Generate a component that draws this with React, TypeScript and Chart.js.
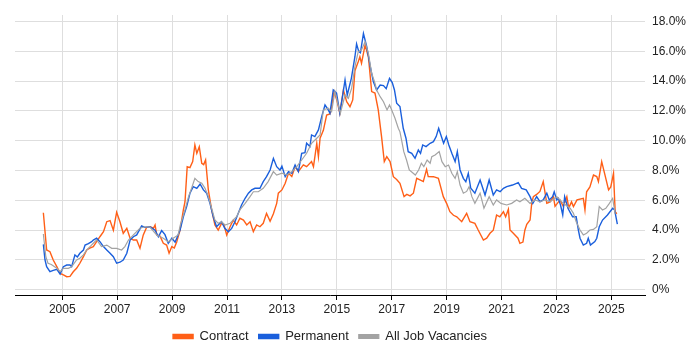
import React, { useEffect, useRef } from "react";
import { Chart, registerables } from "chart.js";

Chart.register(...registerables);

const yearTicks = [2005, 2007, 2009, 2011, 2013, 2015, 2017, 2019, 2021, 2023, 2025];
const percentTicks = [0, 2, 4, 6, 8, 10, 12, 14, 16, 18];

const contractYears = [
  2004.31, 2004.43, 2004.55, 2004.67, 2004.8, 2004.92, 2005.04, 2005.16, 2005.28, 2005.4, 2005.52, 2005.64, 2005.77, 2005.89,
  2006.0, 2006.13, 2006.25, 2006.37, 2006.5, 2006.62, 2006.74, 2006.86, 2006.98, 2007.1, 2007.22, 2007.35, 2007.47, 2007.59,
  2007.71, 2007.83, 2007.95, 2008.07, 2008.2, 2008.32, 2008.38, 2008.44, 2008.56, 2008.68, 2008.8, 2008.89, 2008.99, 2009.08,
  2009.17, 2009.29, 2009.41, 2009.47, 2009.55, 2009.65, 2009.75, 2009.83, 2009.9, 2009.99, 2010.08, 2010.15, 2010.22, 2010.32,
  2010.44, 2010.56, 2010.68, 2010.8, 2010.89, 2010.99, 2011.11, 2011.23, 2011.35, 2011.47, 2011.6, 2011.72, 2011.84, 2011.96,
  2012.08, 2012.2, 2012.32, 2012.44, 2012.57, 2012.69, 2012.81, 2012.87, 2013.0, 2013.12, 2013.24, 2013.36, 2013.48, 2013.6,
  2013.78, 2013.9, 2014.08, 2014.15, 2014.27, 2014.33, 2014.39, 2014.51, 2014.63, 2014.75, 2014.81, 2014.9, 2015.0, 2015.11,
  2015.24, 2015.36, 2015.48, 2015.58, 2015.66, 2015.78, 2015.84, 2015.9, 2016.03, 2016.15, 2016.27, 2016.39, 2016.51, 2016.63,
  2016.73, 2016.82, 2016.94, 2017.06, 2017.18, 2017.3, 2017.45, 2017.55, 2017.67, 2017.79, 2017.91, 2018.03, 2018.15, 2018.27,
  2018.33, 2018.52, 2018.7, 2018.88, 2019.0, 2019.12, 2019.25, 2019.37, 2019.55, 2019.73, 2019.85, 2020.03, 2020.15, 2020.34,
  2020.46, 2020.58, 2020.7, 2020.82, 2020.94, 2021.07, 2021.15, 2021.25, 2021.31, 2021.43, 2021.6, 2021.67, 2021.78, 2021.85,
  2021.92, 2022.04, 2022.1, 2022.16, 2022.28, 2022.4, 2022.52, 2022.65, 2022.77, 2022.89, 2022.95, 2023.13, 2023.25, 2023.38,
  2023.45, 2023.55, 2023.62, 2023.75, 2023.98, 2024.04, 2024.1, 2024.22, 2024.35, 2024.47, 2024.53, 2024.65, 2024.77, 2024.9,
  2024.98, 2025.08, 2025.14, 2025.2,
];
const contractValues = [
  5.17, 2.67, 2.56, 2.0, 1.55, 1.1, 1.0, 0.88, 0.9, 1.21, 1.44, 1.78, 2.22, 2.67,
  2.8, 2.9, 3.23, 3.56, 3.9, 4.57, 4.64, 4.0, 5.2, 4.57, 3.79, 4.13, 3.46, 3.34,
  3.34, 2.79, 3.68, 4.19, 4.23, 4.13, 4.35, 3.68, 3.6, 3.12, 3.0, 2.45, 2.9, 2.8,
  3.23, 4.0, 5.36, 5.91, 8.26, 8.2, 8.6, 9.72, 9.16, 9.6, 8.49, 8.4, 8.71, 6.7,
  5.36, 4.35, 4.01, 4.46, 4.35, 3.68, 4.23, 4.68, 4.35, 4.8, 4.68, 4.35, 4.57, 3.9,
  4.35, 4.23, 4.46, 5.13, 4.6, 5.1, 5.8, 6.48, 6.7, 7.15, 7.82, 7.6, 8.26, 7.93,
  8.38, 8.26, 8.6, 8.26, 9.83, 8.93, 10.17, 10.7, 11.73, 11.8, 12.29, 13.3, 12.74, 11.85,
  13.41, 12.62, 12.29, 12.74, 14.7, 15.3, 15.64, 15.2, 16.43, 15.64, 13.3, 13.2, 12.07, 10.28,
  8.6, 8.93, 8.6, 7.59, 7.4, 7.15, 6.25, 6.4, 6.3, 6.48, 7.48, 7.37, 7.26, 8.08,
  7.6, 7.59, 7.48, 6.25, 5.8, 5.24, 5.0, 4.9, 4.57, 5.13, 4.57, 4.46, 4.01, 3.34,
  3.46, 3.79, 4.0, 5.02, 4.9, 5.24, 4.9, 5.4, 4.01, 3.79, 3.46, 3.12, 3.2, 4.0,
  4.4, 4.68, 5.8, 6.25, 6.4, 6.6, 7.26, 5.8, 5.9, 6.25, 5.6, 6.03, 5.6, 6.25,
  5.5, 5.9, 5.58, 6.03, 6.14, 5.36, 6.58, 6.9, 7.7, 7.6, 7.26, 8.6, 7.7, 6.7,
  6.9, 7.82, 5.24, 5.1,
];

const permanentYears = [
  2004.31, 2004.37, 2004.43, 2004.55, 2004.67, 2004.8, 2004.92, 2005.04, 2005.16, 2005.28, 2005.34, 2005.46, 2005.55, 2005.64,
  2005.77, 2005.83, 2005.95, 2006.07, 2006.13, 2006.25, 2006.37, 2006.5, 2006.62, 2006.74, 2006.86, 2006.98, 2007.1, 2007.22,
  2007.35, 2007.47, 2007.59, 2007.71, 2007.89, 2008.01, 2008.19, 2008.38, 2008.5, 2008.62, 2008.74, 2008.86, 2008.99, 2009.11,
  2009.17, 2009.29, 2009.41, 2009.53, 2009.65, 2009.77, 2009.9, 2010.02, 2010.14, 2010.26, 2010.38, 2010.5, 2010.62, 2010.68,
  2010.8, 2010.92, 2011.05, 2011.17, 2011.29, 2011.41, 2011.53, 2011.66, 2011.78, 2011.9, 2012.02, 2012.2, 2012.32, 2012.44,
  2012.57, 2012.69, 2012.81, 2012.93, 2013.0, 2013.12, 2013.24, 2013.36, 2013.48, 2013.6, 2013.72, 2013.84, 2013.9, 2014.02,
  2014.08, 2014.2, 2014.33, 2014.45, 2014.57, 2014.69, 2014.75, 2014.87, 2014.99, 2015.11, 2015.17, 2015.3, 2015.38, 2015.53,
  2015.66, 2015.72, 2015.8, 2015.86, 2015.97, 2016.09, 2016.22, 2016.33, 2016.45, 2016.58, 2016.7, 2016.8, 2016.92, 2017.02,
  2017.1, 2017.18, 2017.3, 2017.42, 2017.52, 2017.6, 2017.73, 2017.85, 2017.97, 2018.05, 2018.13, 2018.25, 2018.4, 2018.52,
  2018.62, 2018.71, 2018.77, 2018.89, 2018.99, 2019.08, 2019.19, 2019.31, 2019.39, 2019.49, 2019.61, 2019.7, 2019.79, 2019.88,
  2020.03, 2020.22, 2020.4, 2020.55, 2020.7, 2020.82, 2020.95, 2021.07, 2021.19, 2021.4, 2021.61, 2021.73, 2021.9, 2022.04,
  2022.14, 2022.28, 2022.4, 2022.52, 2022.65, 2022.74, 2022.86, 2022.92, 2023.01, 2023.07, 2023.15, 2023.23, 2023.3, 2023.42,
  2023.52, 2023.59, 2023.72, 2023.8, 2023.86, 2023.98, 2024.1, 2024.16, 2024.24, 2024.4, 2024.47, 2024.56, 2024.68, 2024.86,
  2025.05, 2025.12, 2025.22,
];
const permanentValues = [
  3.05, 2.0, 1.55, 1.21, 1.3, 1.37, 1.06, 1.55, 1.66, 1.66, 1.55, 2.34, 2.2, 2.45,
  2.67, 3.0, 3.1, 3.23, 3.34, 3.46, 3.23, 2.9, 2.67, 2.45, 2.22, 1.78, 1.85, 2.0,
  2.45, 3.34, 3.56, 3.68, 4.28, 4.19, 4.23, 4.0, 3.56, 3.97, 3.7, 3.12, 3.46, 3.2,
  3.46, 4.01, 4.9, 5.58, 6.48, 6.92, 6.8, 7.1, 6.7, 6.48, 5.8, 4.9, 4.23, 4.35,
  4.57, 4.12, 3.9, 4.12, 4.57, 5.13, 5.69, 6.14, 6.48, 6.7, 6.81, 6.81, 7.26, 7.59,
  8.04, 8.82, 8.26, 8.04, 8.3, 7.59, 7.93, 7.82, 8.38, 7.93, 9.16, 9.2, 9.83, 9.61,
  10.39, 10.28, 10.73, 11.62, 12.4, 12.07, 11.85, 13.41, 13.2, 11.85, 12.52, 14.08, 13.07, 14.19,
  15.64, 16.5, 15.98, 15.9, 17.2, 16.32, 14.97, 13.97, 13.41, 13.74, 13.7, 13.5, 14.19, 13.9,
  13.41, 12.52, 12.3, 10.84, 10.17, 9.27, 9.16, 8.82, 9.38, 9.16, 9.72, 9.61, 9.83, 9.94,
  10.28, 10.84, 10.5, 9.83, 10.28, 9.72, 9.16, 8.6, 9.27, 8.04, 7.48, 7.26, 7.82, 6.81,
  6.48, 7.37, 6.36, 7.37, 6.36, 6.7, 6.58, 6.81, 6.92, 7.03, 7.19, 6.81, 6.7, 6.25,
  5.8, 6.25, 5.91, 6.03, 6.48, 6.03, 6.25, 6.58, 6.03, 6.14, 5.69, 5.02, 6.25, 5.47,
  5.13, 4.9, 4.9, 4.01, 3.46, 3.0, 3.12, 3.46, 3.0, 3.23, 3.46, 4.23, 4.68, 5.02,
  5.47, 5.36, 4.4,
];

const allYears = [
  2004.31, 2004.4, 2004.48, 2004.6, 2004.8, 2004.92, 2005.04, 2005.22, 2005.34, 2005.52, 2005.64, 2005.77, 2005.89, 2006.01,
  2006.13, 2006.25, 2006.43, 2006.62, 2006.8, 2006.98, 2007.16, 2007.28, 2007.41, 2007.59, 2007.83, 2008.01, 2008.19, 2008.44,
  2008.68, 2008.86, 2009.04, 2009.22, 2009.3, 2009.47, 2009.6, 2009.71, 2009.83, 2009.95, 2010.08, 2010.2, 2010.32, 2010.44,
  2010.56, 2010.68, 2010.8, 2010.93, 2011.11, 2011.23, 2011.35, 2011.47, 2011.66, 2011.84, 2011.96, 2012.14, 2012.32, 2012.5,
  2012.69, 2012.81, 2013.0, 2013.18, 2013.37, 2013.54, 2013.72, 2013.9, 2014.08, 2014.27, 2014.39, 2014.51, 2014.69, 2014.81,
  2014.93, 2015.05, 2015.13, 2015.3, 2015.42, 2015.54, 2015.66, 2015.78, 2015.9, 2016.03, 2016.15, 2016.27, 2016.39, 2016.45,
  2016.58, 2016.7, 2016.83, 2016.92, 2017.0, 2017.12, 2017.24, 2017.3, 2017.36, 2017.44, 2017.54, 2017.64, 2017.86, 2017.98,
  2018.08, 2018.17, 2018.29, 2018.4, 2018.46, 2018.58, 2018.73, 2018.83, 2018.95, 2019.07, 2019.19, 2019.31, 2019.39, 2019.49,
  2019.61, 2019.73, 2019.82, 2019.92, 2020.03, 2020.22, 2020.36, 2020.55, 2020.7, 2020.82, 2020.98, 2021.19, 2021.37, 2021.55,
  2021.67, 2021.85, 2022.04, 2022.22, 2022.4, 2022.58, 2022.77, 2023.01, 2023.25, 2023.5, 2023.62, 2023.72, 2023.86, 2023.98,
  2024.1, 2024.22, 2024.35, 2024.47, 2024.56, 2024.68, 2024.8, 2024.93, 2025.05, 2025.14,
];
const allValues = [
  3.74, 2.22, 1.78, 1.7, 1.44, 1.21, 1.44, 1.44, 1.55, 2.0, 2.12, 2.34, 2.67, 2.9,
  3.12, 3.34, 2.9, 3.0, 2.78, 2.78, 2.67, 2.9, 3.34, 3.68, 4.13, 4.23, 4.2, 3.68,
  3.46, 3.23, 3.46, 3.68, 4.35, 5.36, 6.25, 6.81, 7.48, 7.26, 7.15, 6.81, 6.25, 5.47,
  4.68, 4.46, 4.57, 4.35, 4.46, 4.68, 4.9, 5.36, 5.8, 6.25, 6.58, 6.58, 6.81, 7.26,
  7.93, 7.7, 7.82, 7.7, 7.93, 8.26, 8.71, 9.16, 9.83, 10.17, 10.39, 12.07, 12.18, 11.95,
  13.3, 12.4, 11.85, 13.07, 12.85, 13.52, 14.97, 15.98, 16.1, 16.65, 15.87, 14.53, 13.86, 13.41,
  12.96, 12.62, 12.07, 12.4, 12.07, 11.51, 10.84, 10.6, 10.05, 9.27, 8.71, 8.04, 7.7, 8.04,
  8.49, 8.26, 8.71, 8.49, 8.93, 9.04, 9.27, 8.6, 8.26, 8.37, 7.82, 7.48, 7.93, 7.03,
  6.48, 6.6, 6.92, 6.25, 5.8, 6.48, 5.47, 6.25, 5.69, 6.03, 5.8, 5.69, 5.8, 6.03,
  5.91, 6.14, 5.8, 6.03, 5.91, 6.03, 5.91, 6.25, 5.8, 5.47, 5.13, 4.57, 4.01, 3.68,
  3.8, 4.01, 4.05, 4.23, 5.58, 5.36, 5.47, 5.8, 6.14, 5.1,
];

const toPoints = (xs: number[], ys: number[]) => xs.map((x, i) => ({ x, y: ys[i] }));

export default function App() {
  const canvasRef = useRef<HTMLCanvasElement | null>(null);

  useEffect(() => {
    if (!canvasRef.current) return;
    const font = "Arial, 'Liberation Sans', sans-serif";
    const chart = new Chart(canvasRef.current, {
      type: "line",
      data: {
        datasets: [
          {
            label: "Contract",
            data: toPoints(contractYears, contractValues),
            borderColor: "#ff5f17",
            backgroundColor: "#ff5f17",
            borderWidth: 1.4,
            pointRadius: 0,
            order: 3,
          },
          {
            label: "Permanent",
            data: toPoints(permanentYears, permanentValues),
            borderColor: "#1a5fdc",
            backgroundColor: "#1a5fdc",
            borderWidth: 1.4,
            pointRadius: 0,
            order: 2,
          },
          {
            label: "All Job Vacancies",
            data: toPoints(allYears, allValues),
            borderColor: "#a3a3a3",
            backgroundColor: "#a3a3a3",
            borderWidth: 1.2,
            pointRadius: 0,
            order: 1,
          },
        ],
      },
      options: {
        responsive: false,
        animation: false,
        layout: { padding: { left: 15, top: 15, right: 0, bottom: -3 } },
        plugins: {
          tooltip: { enabled: false },
          legend: {
            position: "bottom",
            fullSize: false,
            labels: {
              boxWidth: 20,
              boxHeight: 4,
              padding: 10,
              color: "#222",
              font: { family: font, size: 13 },
              sort: (a: any, b: any) => a.datasetIndex - b.datasetIndex,
            },
          },
        },
        scales: {
          x: {
            type: "linear",
            min: 2003.277,
            max: 2026.227,
            afterBuildTicks: (scale: any) => {
              scale.ticks = yearTicks.map((value) => ({ value }));
            },
            afterFit: (scale: any) => {
              scale.height = 25;
            },
            grid: { color: "#dedede", tickColor: "#000", tickLength: 5 },
            border: { color: "#000", width: 1 },
            ticks: {
              autoSkip: false,
              maxRotation: 0,
              padding: 2,
              color: "#222",
              font: { family: font, size: 12 },
              callback: (v: any) => String(v),
            },
          },
          y: {
            position: "right",
            min: -0.35,
            max: 18.44,
            afterBuildTicks: (scale: any) => {
              scale.ticks = percentTicks.map((value) => ({ value }));
            },
            afterFit: (scale: any) => {
              scale.width = 55;
            },
            grid: { color: "#dedede", drawTicks: false },
            border: { display: false },
            ticks: {
              crossAlign: "near",
              padding: 7,
              color: "#222",
              font: { family: font, size: 12 },
              callback: (v: any) => (v === 0 ? "0%" : Number(v).toFixed(1) + "%"),
            },
          },
        },
      },
    });
    return () => chart.destroy();
  }, []);

  return (
    <div style={{ position: "absolute", left: 0, top: 0, width: 700, height: 350, background: "#fff" }}>
      <canvas ref={canvasRef} width={700} height={350} style={{ display: "block" }} />
    </div>
  );
}
